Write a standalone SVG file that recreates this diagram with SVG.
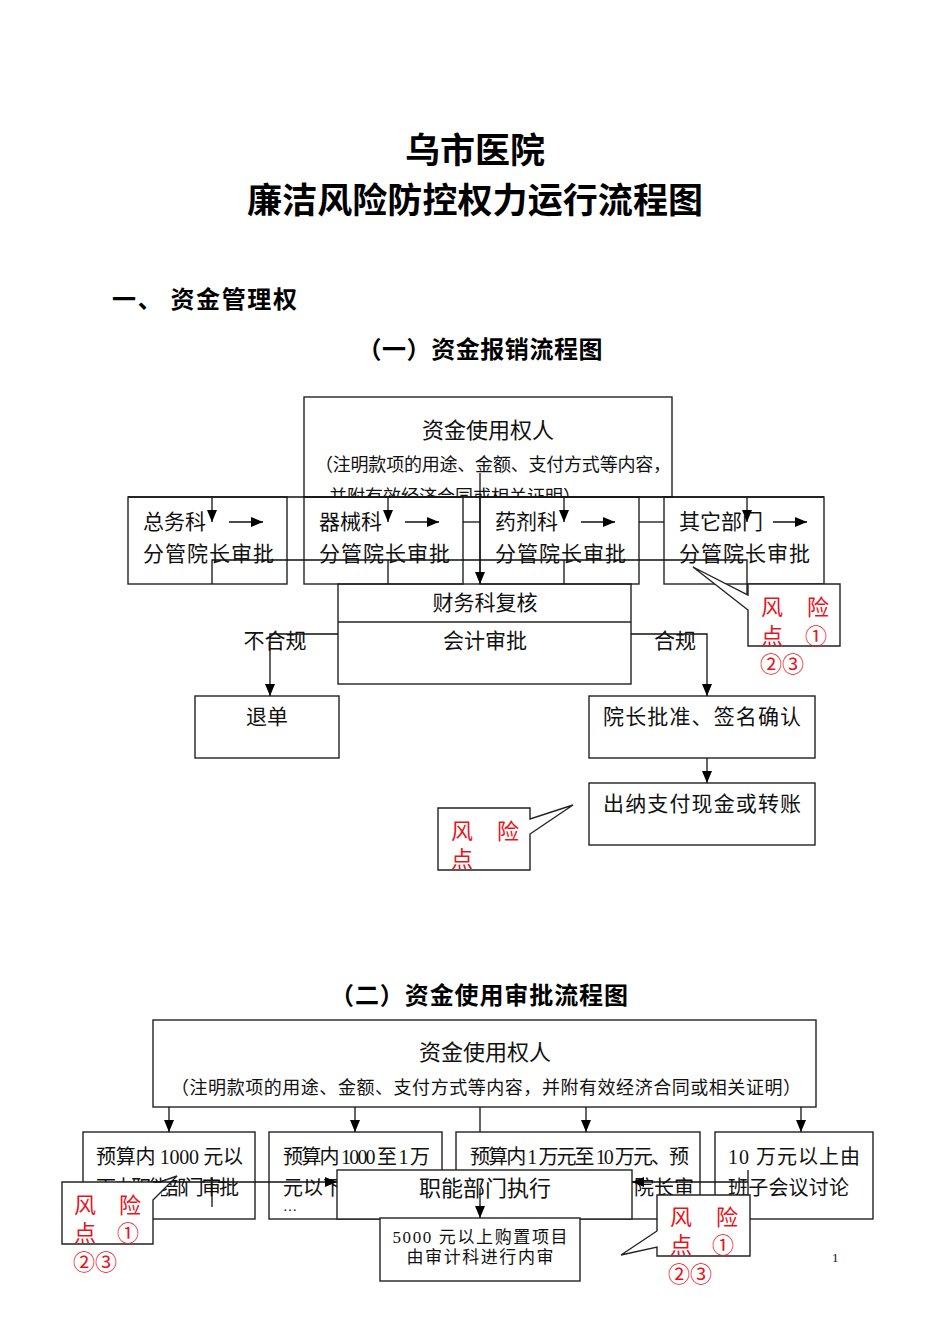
<svg xmlns="http://www.w3.org/2000/svg" width="950" height="1344" viewBox="0 0 950 1344">
<style>
.t{font-family:"Liberation Serif","Noto Sans CJK SC",sans-serif;fill:#111}
.h{font-family:"Noto Sans CJK SC",sans-serif;font-weight:bold;fill:#000}
.b{fill:none;stroke:#222;stroke-width:1.4}
.w{fill:#fff;stroke:#222;stroke-width:1.4}
.r{font-family:"Liberation Serif","Noto Sans CJK SC",sans-serif;fill:#e8141c;font-size:22px}
.c{fill:none;stroke:#111;stroke-width:1.3}
.ca{fill:none;stroke:#111;stroke-width:1.3;marker-end:url(#ah)}
</style>
<defs>
<marker id="ah" markerUnits="userSpaceOnUse" markerWidth="12" markerHeight="12" viewBox="0 0 12 12" refX="12" refY="6" orient="auto">
<path d="M0,1 L12,6 L0,11 Z" fill="#000"/>
</marker>
<clipPath id="clipTop"><rect x="304" y="397" width="368" height="100"/></clipPath>
<clipPath id="clipC2"><rect x="438" y="808" width="92" height="62"/></clipPath>
<clipPath id="clipA"><path d="M83,1132 H255 V1219 H161 V1182 H83 Z"/></clipPath>
<clipPath id="clipB"><rect x="269" y="1132" width="68" height="87"/></clipPath>
</defs>
<rect width="950" height="1344" fill="#fff"/>

<g id="titles">
<text class="h" x="475" y="163" font-size="35" text-anchor="middle">乌市医院</text>
<text class="h" x="475" y="213" font-size="35" text-anchor="middle" textLength="456">廉洁风险防控权力运行流程图</text>
<text class="h" x="112" y="308" font-size="24" textLength="185">一、 资金管理权</text>
<text class="h" x="480" y="358" font-size="24" text-anchor="middle" textLength="245">（一）资金报销流程图</text>
<text class="h" x="479" y="1004" font-size="24" text-anchor="middle" textLength="298">（二）资金使用审批流程图</text>
</g>

<!-- Section 1 -->
<g id="s1-user">
<rect class="b" x="304" y="397" width="368" height="100"/>
<text class="t" x="488" y="438" font-size="22" text-anchor="middle">资金使用权人</text>
<text class="t" x="315" y="471" font-size="18" textLength="356">（注明款项的用途、金额、支付方式等内容，</text>
<text class="t" x="329" y="503" font-size="18" clip-path="url(#clipTop)">并附有效经济合同或相关证明）</text>
</g>
<g id="s1-zongwu">
<rect class="b" x="128" y="497" width="159" height="87"/>
<text class="t" x="143" y="529" font-size="21">总务科</text>
<text class="t" x="143" y="561" font-size="21" textLength="131">分管院长审批</text>
</g>
<g id="s1-qixie">
<rect class="b" x="304" y="497" width="159" height="87"/>
<text class="t" x="319" y="529" font-size="21">器械科</text>
<text class="t" x="319" y="561" font-size="21" textLength="131">分管院长审批</text>
</g>
<g id="s1-yaoji">
<rect class="b" x="480" y="497" width="159" height="87"/>
<text class="t" x="495" y="529" font-size="21">药剂科</text>
<text class="t" x="495" y="561" font-size="21" textLength="131">分管院长审批</text>
</g>
<g id="s1-qita">
<rect class="b" x="664" y="497" width="160" height="87"/>
<text class="t" x="679" y="529" font-size="21">其它部门</text>
<text class="t" x="679" y="561" font-size="21" textLength="131">分管院长审批</text>
</g>
<g id="s1-caiwu">
<rect class="b" x="338" y="584" width="293" height="100"/>
<line class="b" x1="338" y1="622" x2="631" y2="622"/>
<text class="t" x="485" y="610" font-size="21" text-anchor="middle">财务科复核</text>
<text class="t" x="485" y="648" font-size="21" text-anchor="middle">会计审批</text>
</g>
<g id="s1-tuidan">
<rect class="b" x="195" y="696" width="144" height="62"/>
<text class="t" x="267" y="724" font-size="21" text-anchor="middle">退单</text>
</g>
<g id="s1-yuanzhang">
<rect class="b" x="589" y="696" width="226" height="62"/>
<text class="t" x="702" y="724" font-size="21" text-anchor="middle" textLength="198">院长批准、签名确认</text>
</g>
<g id="s1-chuna">
<rect class="b" x="589" y="783" width="226" height="62"/>
<text class="t" x="702" y="811" font-size="21" text-anchor="middle" textLength="198">出纳支付现金或转账</text>
</g>
<g id="s1-risk1">
<path class="w" d="M748,584 H840 V646 H748 V610 L693,567 L748,595 Z"/>
<text class="r" x="761" y="615">风</text>
<text class="r" x="807" y="615">险</text>
<text class="r" x="761" y="644">点</text>
<text class="r" x="805" y="644">①</text>
<text class="r" x="760" y="672">②③</text>
</g>
<g id="s1-risk2">
<path class="w" d="M438,808 H530 V819 L573,805 L530,834 V870 H438 Z"/>
<g clip-path="url(#clipC2)">
<text class="r" x="451" y="839">风</text>
<text class="r" x="497" y="839">险</text>
<text class="r" x="451" y="867">点</text>
</g>
</g>

<!-- Section 2 -->
<g id="s2-user">
<rect class="b" x="153" y="1020" width="663" height="87"/>
<text class="t" x="485" y="1060" font-size="22" text-anchor="middle">资金使用权人</text>
<text class="t" x="171" y="1094" font-size="18" textLength="630">（注明款项的用途、金额、支付方式等内容，并附有效经济合同或相关证明）</text>
</g>
<g id="s2-a">
<rect class="b" x="83" y="1132" width="172" height="87"/>
<text class="t" x="96" y="1164" font-size="20" textLength="147">预算内 1000 元以</text>
<text class="t" x="96" y="1195" font-size="20" textLength="143" clip-path="url(#clipA)">下由职能部门审批</text>
</g>
<g id="s2-b">
<rect class="b" x="269" y="1132" width="173" height="87"/>
<text class="t" x="283" y="1164" font-size="20" textLength="147">预算内 1000 至 1 万</text>
<text class="t" x="283" y="1195" font-size="20" clip-path="url(#clipB)">元以下由</text>
<text class="t" x="283" y="1211" font-size="14">…</text>
</g>
<g id="s2-c">
<rect class="b" x="456" y="1132" width="244" height="87"/>
<text class="t" x="470" y="1164" font-size="20" textLength="219">预算内 1 万元至 10 万元、预</text>
<text class="t" x="634" y="1195" font-size="20">院长审</text>
</g>
<g id="s2-d">
<rect class="b" x="715" y="1132" width="158" height="87"/>
<text class="t" x="728" y="1164" font-size="20" textLength="132">10 万元以上由</text>
<text class="t" x="728" y="1195" font-size="20" textLength="121">班子会议讨论</text>
</g>
<g id="s2-zhineng">
<rect class="w" x="337" y="1170" width="295" height="49"/>
<text class="t" x="485" y="1196" font-size="22" text-anchor="middle">职能部门执行</text>
</g>
<g id="s2-shenji">
<rect class="w" x="380" y="1218" width="200" height="63"/>
<text class="t" x="480" y="1243" font-size="17" text-anchor="middle" textLength="175">5000 元以上购置项目</text>
<text class="t" x="480" y="1263" font-size="17" text-anchor="middle" textLength="147">由审计科进行内审</text>
</g>
<g id="s2-risk1">
<path class="w" d="M62,1182 H160 L177,1176 L153,1200 V1244 H62 Z"/>
<text class="r" x="74" y="1213">风</text>
<text class="r" x="119" y="1213">险</text>
<text class="r" x="74" y="1241">点</text>
<text class="r" x="117" y="1241">①</text>
<text class="r" x="73" y="1270">②③</text>
</g>
<g id="s2-risk3">
<path class="w" d="M657,1195 H750 V1256 H657 V1247 L621,1255 L657,1231 Z"/>
<text class="r" x="670" y="1225">风</text>
<text class="r" x="716" y="1225">险</text>
<text class="r" x="670" y="1253">点</text>
<text class="r" x="712" y="1253">①</text>
<text class="r" x="668" y="1282">②③</text>
</g>
<text class="t" x="832" y="1262" font-size="13">1</text>

<g id="connectors">
<!-- section 1 -->
<line class="c" x1="128" y1="497" x2="824" y2="497"/>
<line class="ca" x1="212" y1="497" x2="212" y2="522"/>
<line class="ca" x1="388" y1="497" x2="388" y2="522"/>
<line class="ca" x1="564" y1="497" x2="564" y2="522"/>
<line class="ca" x1="747" y1="497" x2="747" y2="522"/>
<line class="ca" x1="229" y1="522" x2="263" y2="522"/>
<line class="ca" x1="405" y1="522" x2="439" y2="522"/>
<line class="ca" x1="581" y1="522" x2="615" y2="522"/>
<line class="ca" x1="773" y1="522" x2="807" y2="522"/>
<line class="c" x1="463" y1="522" x2="480" y2="522"/>
<line class="c" x1="639" y1="522" x2="664" y2="522"/>
<path class="c" d="M212,584 V560 H747 V594"/>
<line class="c" x1="388" y1="560" x2="388" y2="584"/>
<line class="c" x1="564" y1="560" x2="564" y2="584"/>
<line class="ca" x1="480" y1="473" x2="480" y2="584"/>
<path class="ca" d="M338,634 H270 V696"/>
<text class="t" x="275" y="648" font-size="21" text-anchor="middle">不合规</text>
<path class="ca" d="M631,634 H707 V696"/>
<text class="t" x="675" y="648" font-size="21" text-anchor="middle">合规</text>
<line class="ca" x1="707" y1="758" x2="707" y2="783"/>
<!-- section 2 -->
<line class="ca" x1="169" y1="1107" x2="169" y2="1132"/>
<line class="ca" x1="355" y1="1107" x2="355" y2="1132"/>
<line class="c" x1="480" y1="1107" x2="480" y2="1132"/>
<line class="ca" x1="586" y1="1107" x2="586" y2="1132"/>
<line class="ca" x1="801" y1="1107" x2="801" y2="1132"/>
<line class="ca" x1="153" y1="1182" x2="337" y2="1182"/>
<line class="c" x1="212" y1="1177" x2="212" y2="1207"/>
<line class="ca" x1="748" y1="1182" x2="632" y2="1182"/>
<line class="c" x1="748" y1="1170" x2="748" y2="1195"/>
<line class="ca" x1="480" y1="1188" x2="480" y2="1218"/>
</g>
</svg>
